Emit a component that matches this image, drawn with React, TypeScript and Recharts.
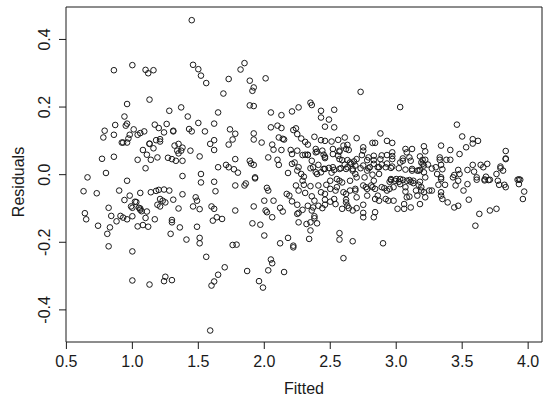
import React from 'react';
import { ScatterChart, Scatter, XAxis, YAxis, ReferenceArea } from 'recharts';

// residuals vs fitted values
const fitted: number[] = [
  // left block, upper half
  1.45, 1.00, 0.86, 1.10, 1.12, 1.16, 1.46, 1.50, 1.52, 1.56,
  0.96, 1.13, 1.28, 1.37, 1.42, 0.94, 0.96, 0.87, 0.79, 0.78,
  0.86, 0.95, 1.01, 0.98, 1.04, 1.06, 1.09, 0.92, 0.93, 0.96,
  0.97, 1.17, 1.20, 1.26, 1.24, 1.31, 1.31, 1.13, 1.13, 1.18,
  1.21, 1.21, 1.16, 1.08, 1.11, 1.14, 1.19, 1.04, 1.10, 0.86,
  0.77, 0.80, 0.66, 1.32, 1.35, 1.38, 1.34, 1.35, 1.37, 1.27,
  1.30, 1.33, 1.38, 1.44, 1.51, 1.55, 1.50, 1.43, 1.45, 1.59,
  1.62, 1.62, 1.62, 1.38, 1.52, 0.96,
  // left block, lower half
  1.52, 0.63, 0.73, 0.90, 0.98, 1.06, 1.14, 1.18, 1.20, 1.24,
  1.28, 1.38, 0.94, 1.02, 1.21, 1.23, 1.25, 1.19, 1.21, 1.31,
  1.48, 1.49, 1.46, 1.51, 1.60, 1.62, 1.63, 1.62, 0.82, 0.99,
  1.00, 1.05, 1.06, 1.06, 1.07, 1.11, 1.03, 0.64, 0.65, 0.74,
  0.83, 0.84, 0.88, 0.91, 0.93, 0.96, 1.00, 1.04, 1.08, 1.12,
  1.10, 1.17, 1.30, 1.30, 1.35, 1.36, 1.29, 1.49, 1.41, 1.51,
  1.51, 0.81, 0.82, 1.00, 1.00, 1.13, 1.24, 1.25, 1.30, 1.56,
  1.60, 1.62, 1.59,
  // middle block, upper half
  1.85, 1.82, 1.73, 1.69, 1.89, 1.92, 1.91, 2.01, 2.73, 1.65,
  1.89, 1.92, 2.05, 2.13, 2.21, 2.26, 2.35, 2.36, 2.43, 2.43,
  2.49, 2.53, 2.46, 2.53, 1.74, 1.78, 1.76, 1.73, 1.92, 1.92,
  1.98, 2.05, 2.10, 2.13, 2.11, 2.14, 2.15, 2.22, 2.24, 2.25,
  2.28, 2.31, 2.33, 2.06, 2.07, 2.13, 2.20, 2.25, 2.21, 2.38,
  2.43, 2.46, 2.51, 2.56, 2.61, 2.60, 2.63, 2.64, 2.70, 2.75,
  2.75, 2.39, 2.40, 2.46, 2.46, 2.45, 2.52, 2.57, 2.56, 2.59,
  2.63, 2.66, 2.70, 2.74, 2.82, 2.83, 2.80, 2.03, 2.10, 2.11,
  2.21, 2.23, 2.18, 2.31, 2.33, 1.89, 1.92, 1.90, 1.78, 1.71,
  1.73, 1.77, 1.80, 1.65, 1.93, 2.26, 2.25, 2.28, 2.30, 2.40,
  2.43, 2.37, 2.45, 2.49, 2.51, 2.53, 2.58, 2.61, 2.63, 2.67,
  2.69, 2.70, 2.65, 2.68, 2.75, 2.78, 2.78, 2.82,
  // right block, upper half
  3.03, 3.46, 3.50, 2.88, 2.84, 2.93, 2.97, 3.58, 3.62, 3.58,
  3.53, 3.34, 3.41, 3.48, 3.21, 3.22, 3.83, 3.83, 3.83, 3.07,
  3.12, 3.08, 3.05, 3.11, 2.97, 2.97, 2.93, 2.89, 3.03, 2.97,
  2.96, 3.18, 3.20, 3.22, 3.19, 3.21, 3.24, 3.27, 3.18, 3.21,
  3.12, 3.16, 3.30, 3.33, 3.33, 3.34, 3.35, 3.38, 3.41, 3.31,
  3.34, 3.47, 3.48, 3.43, 3.44, 3.54, 3.58, 3.59, 3.64, 3.66,
  3.69, 3.79, 3.79, 3.81, 3.76, 3.67, 3.70, 3.93, 2.83, 2.86,
  2.89, 2.92, 2.93, 2.87, 2.96, 3.03, 3.10, 3.17, 3.22, 3.61,
  3.68,
  // right block, lower half
  2.83, 2.82, 2.84, 2.84, 2.84, 2.90, 2.91, 2.93, 2.95, 2.98,
  2.95, 2.99, 3.02, 3.05, 3.08, 3.11, 3.13, 3.18, 3.17, 3.19,
  3.19, 3.21, 3.22, 3.25, 3.27, 2.94, 2.98, 3.07, 3.06, 3.06,
  3.11, 3.10, 3.32, 3.34, 3.37, 3.34, 3.35, 3.39, 3.44, 3.47,
  3.45, 3.47, 3.51, 3.55, 3.54, 3.61, 3.63, 3.60, 3.67, 3.71,
  3.71, 3.76, 3.77, 3.78, 3.82, 3.83, 3.92, 3.93, 3.94, 3.97,
  3.96,
  // middle block, lower half
  1.78, 1.85, 1.86, 1.93, 2.02, 2.03, 1.64, 1.68, 1.61, 1.78,
  1.92, 2.00, 2.07, 2.01, 2.02, 2.06, 1.97, 1.91, 2.00, 2.12,
  2.14, 2.17, 2.19, 2.21, 2.25, 2.26, 2.25, 2.29, 2.26, 2.24,
  2.30, 2.35, 2.31, 2.36, 2.38, 2.37, 2.38, 2.38, 2.40, 2.32,
  2.35, 2.34, 2.26, 2.18, 2.22, 2.22, 2.12, 1.76, 1.79, 1.70,
  1.65, 1.87, 1.96, 1.99, 2.03, 2.05, 2.06, 2.15, 2.43, 2.46,
  2.44, 2.46, 2.50, 2.53, 2.54, 2.57, 2.60, 2.62, 2.62, 2.59,
  2.64, 2.69, 2.70, 2.70, 2.75, 2.75, 2.75, 2.57, 2.57, 2.67,
  2.60, 2.47, 2.50, 2.55, 2.65, 2.75, 2.78, 2.81,
  // dense centre band
  2.33, 2.39, 2.44, 2.52, 2.57, 2.57, 2.62, 2.79, 2.83, 2.88,
  2.97, 3.05, 3.10, 3.20, 3.12, 3.07, 3.02, 2.87, 2.79, 2.73,
  2.69, 2.67, 2.62, 2.57, 2.52, 2.46, 2.41, 2.36, 2.35, 2.39,
  2.41, 2.46, 2.50, 2.55, 2.59, 2.62, 2.65, 2.69, 2.76, 2.77,
  2.78, 2.86, 2.89, 2.96, 3.00, 3.13, 3.15, 3.07, 3.03, 3.08,
  3.16, 3.18, 3.01, 2.92, 2.87, 2.67, 2.63, 2.54, 2.41, 2.36,
  2.35, 2.33, 2.83, 2.29, 2.29, 3.34,
];

const residuals: number[] = [
  // left block, upper half
  0.457, 0.324, 0.309, 0.310, 0.300, 0.309, 0.325, 0.312, 0.293, 0.271,
  0.209, 0.222, 0.189, 0.199, 0.172, 0.172, 0.151, 0.147, 0.130, 0.110,
  0.118, 0.145, 0.134, 0.118, 0.118, 0.123, 0.128, 0.095, 0.095, 0.095,
  0.107, 0.148, 0.138, 0.150, 0.125, 0.130, 0.128, 0.092, 0.091, 0.102,
  0.105, 0.098, 0.078, 0.073, 0.059, 0.044, 0.051, 0.044, 0.019, 0.053,
  0.047, 0.005, -0.008, 0.086, 0.091, 0.080, 0.071, 0.063, 0.071, 0.050,
  0.046, 0.041, 0.041, 0.071, 0.054, 0.128, 0.153, 0.135, 0.128, 0.091,
  0.102, 0.073, 0.151, -0.004, 0.002, -0.018,
  // left block, lower half
  -0.023, -0.049, -0.055, -0.047, -0.062, -0.054, -0.052, -0.048, -0.045, -0.044,
  -0.047, -0.058, -0.075, -0.080, -0.072, -0.077, -0.082, -0.089, -0.094, -0.074,
  -0.067, -0.077, -0.094, -0.102, -0.094, -0.101, -0.049, -0.021, -0.098, -0.094,
  -0.098, -0.098, -0.100, -0.104, -0.108, -0.109, -0.081, -0.114, -0.132, -0.151,
  -0.156, -0.122, -0.138, -0.122, -0.127, -0.132, -0.123, -0.153, -0.149, -0.154,
  -0.128, -0.132, -0.134, -0.141, -0.100, -0.156, -0.175, -0.154, -0.192, -0.187,
  -0.203, -0.175, -0.212, -0.227, -0.313, -0.325, -0.315, -0.302, -0.312, -0.243,
  -0.328, -0.316, -0.461,
  // middle block, upper half
  0.330, 0.311, 0.283, 0.240, 0.278, 0.258, 0.248, 0.285, 0.245, 0.184,
  0.205, 0.203, 0.184, 0.176, 0.187, 0.199, 0.213, 0.206, 0.189, 0.169,
  0.163, 0.192, 0.142, 0.140, 0.134, 0.121, 0.104, 0.089, 0.122, 0.104,
  0.095, 0.140, 0.145, 0.138, 0.110, 0.106, 0.104, 0.132, 0.137, 0.120,
  0.107, 0.097, 0.089, 0.089, 0.074, 0.073, 0.073, 0.071, 0.061, 0.112,
  0.102, 0.100, 0.098, 0.103, 0.110, 0.086, 0.088, 0.073, 0.108, 0.081,
  0.071, 0.066, 0.068, 0.053, 0.049, 0.059, 0.061, 0.068, 0.056, 0.043,
  0.043, 0.032, 0.046, 0.058, 0.094, 0.043, 0.022, 0.051, 0.044, 0.029,
  0.032, 0.036, 0.005, 0.059, 0.059, 0.041, 0.029, 0.033, 0.046, 0.029,
  0.022, 0.016, 0.006, 0.022, -0.008, 0.022, 0.012, 0.002, -0.006, 0.002,
  0.007, 0.022, 0.017, 0.020, 0.006, 0.014, 0.019, 0.030, 0.022, 0.012,
  0.002, -0.008, 0.036, 0.039, 0.027, 0.043, 0.012, 0.000,
  // right block, upper half
  0.200, 0.148, 0.113, 0.122, 0.094, 0.100, 0.094, 0.105, 0.100, 0.092,
  0.081, 0.086, 0.073, 0.061, 0.084, 0.069, 0.070, 0.048, 0.046, 0.076,
  0.076, 0.066, 0.048, 0.041, 0.066, 0.055, 0.058, 0.057, 0.036, 0.024,
  0.020, 0.054, 0.044, 0.044, 0.036, 0.027, 0.030, 0.018, 0.014, 0.007,
  0.012, 0.012, 0.022, 0.051, 0.044, 0.029, 0.016, 0.044, 0.044, 0.002,
  -0.008, 0.014, 0.002, -0.008, -0.001, 0.014, 0.029, 0.009, 0.029, 0.022,
  0.032, 0.024, 0.019, 0.012, 0.002, -0.014, -0.016, -0.014, 0.032, 0.022,
  0.030, 0.022, 0.033, 0.002, -0.016, -0.013, -0.016, 0.012, -0.008, -0.008,
  -0.006,
  // right block, lower half
  -0.018, -0.037, -0.042, -0.072, -0.111, -0.203, -0.040, -0.047, -0.042, -0.037,
  -0.021, -0.018, -0.021, -0.015, -0.018, -0.021, -0.025, -0.021, -0.030, -0.037,
  -0.047, -0.052, -0.067, -0.047, -0.047, -0.077, -0.077, -0.050, -0.087, -0.101,
  -0.097, -0.065, -0.030, -0.013, -0.030, -0.062, -0.072, -0.082, -0.097, -0.092,
  -0.032, -0.018, -0.047, -0.074, -0.028, -0.015, -0.116, -0.151, -0.017, -0.015,
  -0.106, -0.101, -0.018, -0.030, -0.030, -0.037, -0.015, -0.028, -0.015, -0.050,
  -0.072,
  // middle block, lower half
  -0.032, -0.032, -0.026, -0.011, -0.039, -0.047, -0.126, -0.131, -0.136, -0.106,
  -0.094, -0.077, -0.077, -0.106, -0.111, -0.126, -0.148, -0.144, -0.180, -0.098,
  -0.109, -0.057, -0.062, -0.079, -0.089, -0.113, -0.116, -0.104, -0.047, -0.032,
  -0.030, -0.034, -0.054, -0.064, -0.077, -0.097, -0.123, -0.129, -0.144, -0.146,
  -0.165, -0.190, -0.141, -0.187, -0.210, -0.215, -0.203, -0.208, -0.207, -0.274,
  -0.296, -0.285, -0.315, -0.334, -0.283, -0.251, -0.262, -0.288, -0.052, -0.074,
  -0.099, -0.089, -0.080, -0.072, -0.047, -0.018, -0.052, -0.074, -0.082, -0.101,
  -0.099, -0.047, -0.067, -0.099, -0.089, -0.113, -0.126, -0.173, -0.192, -0.197,
  -0.247, -0.030, -0.018, -0.013, -0.018, -0.032, -0.042, -0.032,
  // dense centre band
  0.058, 0.076, 0.071, 0.076, 0.071, 0.046, 0.076, 0.051, 0.056, 0.046,
  0.046, 0.041, 0.051, 0.032, 0.017, 0.015, 0.019, 0.022, 0.019, 0.019,
  0.027, 0.017, 0.017, 0.017, 0.022, 0.017, 0.029, 0.041, 0.019, 0.007,
  -0.032, -0.057, -0.042, -0.037, -0.023, -0.057, -0.047, -0.042, -0.008, -0.037,
  -0.062, -0.062, -0.037, -0.013, -0.013, -0.018, -0.047, -0.037, -0.028, -0.067,
  -0.062, -0.087, -0.101, -0.072, -0.077, -0.106, -0.092, -0.087, -0.092, -0.106,
  -0.141, -0.092, -0.126, 0.058, -0.018, -0.052,
];

const xTicks = [0.5, 1.0, 1.5, 2.0, 2.5, 3.0, 3.5, 4.0];
const yTicks = [-0.4, -0.2, 0.0, 0.2, 0.4];
const xDomain: [number, number] = [0.497, 4.105];
const yDomain: [number, number] = [-0.495, 0.496];

const data = fitted.map((x, i) => ({ x, y: residuals[i] }));

const FONT = '"Liberation Sans", Arial, Helvetica, sans-serif';
const INK = '#1a1a1a';

const OpenCircle = (props: any) => (
  <circle cx={props.cx} cy={props.cy} r={2.8} fill="none" stroke={INK} strokeWidth={1} />
);

const XTick = ({ x, y, payload }: any) => (
  <text x={x} y={y + 18} textAnchor="middle" fontSize={16} fill={INK} fontFamily={FONT}>
    {Number(payload.value).toFixed(1)}
  </text>
);

const YTick = ({ x, y, payload }: any) => (
  <text
    x={x - 9}
    y={y}
    transform={`rotate(-90, ${x - 9}, ${y})`}
    textAnchor="middle"
    fontSize={16}
    fill={INK}
    fontFamily={FONT}
  >
    {Number(payload.value).toFixed(1)}
  </text>
);

const YLabel = () => (
  <text x={24} y={182} transform="rotate(-90, 24, 182)" textAnchor="middle" fontSize={16} fill={INK} fontFamily={FONT}>
    Residuals
  </text>
);

const XLabel = () => (
  <text x={304} y={394} textAnchor="middle" fontSize={16} fill={INK} fontFamily={FONT}>
    Fitted
  </text>
);

export default function App() {
  return (
    <div style={{ position: 'absolute', left: 0, top: 0, width: 550, height: 401, background: '#fff', fontFamily: FONT }}>
      <ScatterChart width={550} height={401} margin={{ top: 7, right: 8, bottom: 0, left: 0 }}>
        <XAxis
          type="number"
          dataKey="x"
          domain={xDomain}
          ticks={xTicks}
          interval={0}
          allowDataOverflow
          height={59}
          axisLine={false}
          tickSize={7}
          tickMargin={0}
          tickLine={{ stroke: INK, strokeWidth: 1 }}
          tick={<XTick />}
          label={<XLabel />}
        />
        <YAxis
          type="number"
          dataKey="y"
          domain={yDomain}
          ticks={yTicks}
          interval={0}
          allowDataOverflow
          width={66}
          axisLine={false}
          tickSize={7}
          tickMargin={0}
          tickLine={{ stroke: INK, strokeWidth: 1 }}
          tick={<YTick />}
          label={<YLabel />}
        />
        <ReferenceArea
          x1={xDomain[0]}
          x2={xDomain[1]}
          y1={yDomain[0]}
          y2={yDomain[1]}
          fill="none"
          stroke={INK}
          strokeWidth={1}
          ifOverflow="visible"
        />
        <Scatter data={data} isAnimationActive={false} shape={OpenCircle} />
      </ScatterChart>
    </div>
  );
}
